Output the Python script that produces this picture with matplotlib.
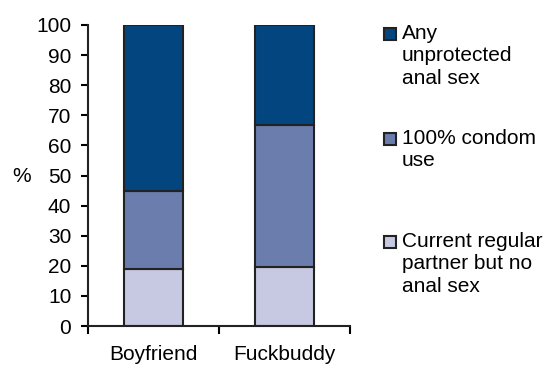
import matplotlib.pyplot as plt
import numpy as np

plt.rcParams['font.family'] = ['Liberation Sans', 'DejaVu Sans']

categories = ['Boyfriend', 'Fuckbuddy']
no_anal = [19, 19.7]          # Current regular partner but no anal sex
condom = [26, 47]             # 100% condom use
unprotected = [55, 33.3]      # Any unprotected anal sex
series_names = ['Any\nunprotected\nanal sex', '100% condom\nuse', 'Current regular\npartner but no\nanal sex']
colors = ['#03467f', '#6b7dac', '#c6c9e1']
edge = '#222222'
fs = 15

fig = plt.figure(figsize=(5.49, 3.65), dpi=100)
ax = fig.add_axes([88/549, 39/365, 262/549, 301/365])

x = np.arange(len(categories)) + 0.5
w = 0.45
ax.bar(x, no_anal, w, color=colors[2], edgecolor=edge, linewidth=1.5)
ax.bar(x, condom, w, bottom=no_anal, color=colors[1], edgecolor=edge, linewidth=1.5)
ax.bar(x, unprotected, w, bottom=np.add(no_anal, condom), color=colors[0], edgecolor=edge, linewidth=1.5)

ax.set_xlim(0, 2)
ax.set_ylim(0, 100)
ax.set_yticks(range(0, 101, 10))
ax.set_xticks([0, 1, 2])
ax.set_xticklabels([])
ax.set_xticks(x, minor=True)
ax.set_xticklabels(categories, minor=True, fontsize=fs)
# reference labels sit a bit lower and get clipped; keep them fully inside
ax.tick_params(axis='x', which='minor', length=0, pad=14)
ax.tick_params(axis='x', which='major', length=6, width=1.5, direction='out')
ax.tick_params(axis='y', length=5, width=1.5, pad=7, labelsize=fs)
for s in ['top', 'right']:
    ax.spines[s].set_visible(False)
for s in ['left', 'bottom']:
    ax.spines[s].set_linewidth(1.5)
    ax.spines[s].set_color(edge)

fig.text(12/549, 1 - 177/365, '%', fontsize=fs, va='center', ha='left')

# legend drawn by hand to match the layout
tops = [24, 129, 232]
for name, c, t in zip(series_names, colors, tops):
    fig.patches.append(plt.Rectangle((384/549, 1 - (t + 16)/365), 12/549, 12/365,
                                     transform=fig.transFigure, facecolor=c,
                                     edgecolor=edge, linewidth=1.5))
    fig.text(402/549, 1 - t/365, name, fontsize=fs, va='top', ha='left', linespacing=1.22)

plt.savefig('out.png', dpi=100)
